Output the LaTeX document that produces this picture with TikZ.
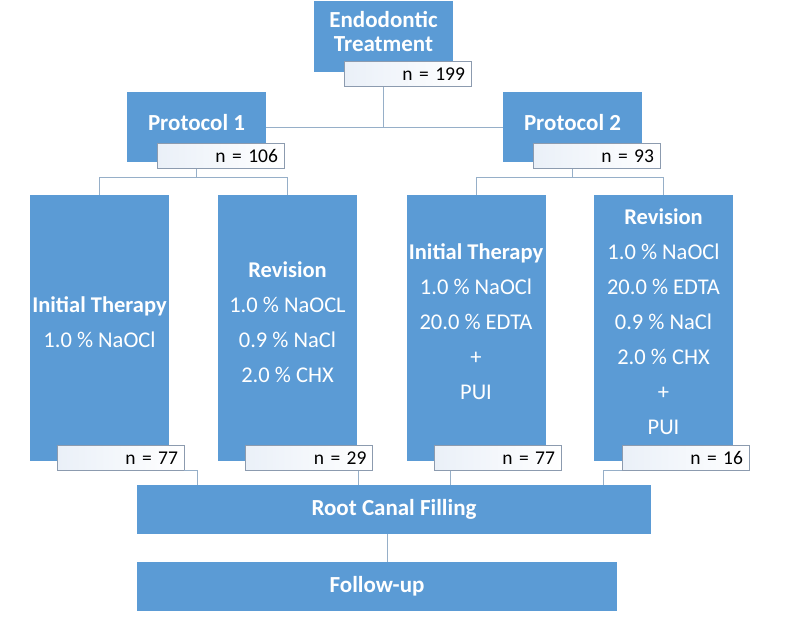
\documentclass[tikz,border=0pt]{standalone}
\usepackage{fontspec}
\setmainfont{Carlito}
\definecolor{boxblue}{RGB}{91,155,213}
\definecolor{linegray}{RGB}{150,175,200}
\definecolor{nborder}{RGB}{140,155,175}
\definecolor{nshade}{RGB}{234,240,248}
\tikzset{
  box/.style={fill=boxblue, text=white, inner sep=0pt, align=center},
  head/.style={box, minimum width=139pt, minimum height=70pt, text depth=9.5pt, font=\fontsize{23}{24}\selectfont\bfseries},
  leaf/.style={box, minimum width=139pt, minimum height=266pt, text depth=12pt, font=\fontsize{22.5}{35}\selectfont},
  wide/.style={box, minimum height=49pt, font=\fontsize{23}{26}\selectfont\bfseries},
  count/.style={draw=nborder, left color=nshade, right color=white, minimum width=127pt, minimum height=25pt, inner sep=0pt, text width=115pt, align=right, font=\fontsize{19.5}{22}\selectfont},
  conn/.style={draw=linegray, line width=1pt}
}
\begin{document}
\begin{tikzpicture}[x=1pt,y=-1pt]
		\useasboundingbox (0,0) rectangle (794,618);
		
		\node[head] (treat) at (383.5,36.5) {Endodontic\\Treatment};
		\node[head] (p1) at (196.5,127) {Protocol 1};
		\node[head] (p2) at (572.5,127) {Protocol 2};
		
		\node[leaf] (l1) at (99.5,328) {\textbf{Initial Therapy}\\1.0 \% NaOCl};
		\node[leaf] (l2) at (287.5,328) {\textbf{Revision}\\1.0 \% NaOCL\\0.9 \% NaCl\\2.0 \% CHX};
		\node[leaf] (l3) at (476,328) {\textbf{Initial Therapy}\\1.0 \% NaOCl\\20.0 \% EDTA\\+\\PUI};
		\node[leaf] (l4) at (663.5,328) {\textbf{Revision}\\1.0 \% NaOCl\\20.0 \% EDTA\\0.9 \% NaCl\\2.0 \% CHX\\+\\PUI};
		
		\node[wide, minimum width=514pt] (rcf) at (394,509.5) {Root Canal Filling};
		\node[wide, minimum width=480pt] (fu) at (377,586.5) {Follow-up};
		
		% sample sizes
		\node[count] (treatn) at (407.5,74) {n = 199};
		\node[count] (p1n) at (220.5,156) {n = 106};
		\node[count] (p2n) at (596.5,156) {n = 93};
		\node[count] (l1n) at (120.5,458) {n = 77};
		\node[count] (l2n) at (309,458) {n = 29};
		\node[count] (l3n) at (497.5,458) {n = 77};
		\node[count] (l4n) at (685.5,458) {n = 16};
		
		% connectors
		\draw[conn] (p1.east) -- (p2.west);
		\draw[conn] (treatn.south -| treat.south) -- (treat.south |- p1.east);
		
		\draw[conn] (p1n.south -| p1.south) -- ++(0,9) coordinate (p1fork);
		\draw[conn] (l1.north) |- (p1fork) -| (l2.north);
		\draw[conn] (p2n.south -| p2.south) -- ++(0,9) coordinate (p2fork);
		\draw[conn] (l3.north) |- (p2fork) -| (l4.north);
		
		\draw[conn] (l1n.south east) -| ([xshift=13pt]l1n.south east |- rcf.north);
		\draw[conn] ([xshift=-14pt]l2n.south east) -- ([xshift=-14pt]l2n.south east |- rcf.north);
		\draw[conn] ([xshift=17pt]l3n.south west) -- ([xshift=17pt]l3n.south west |- rcf.north);
		\draw[conn] (l4n.south west) -| ([xshift=-18pt]l4n.south west |- rcf.north);
		
		\draw[conn] ([xshift=-7pt]rcf.south) -- ([xshift=-7pt]rcf.south |- fu.north);
\end{tikzpicture}
\end{document}
